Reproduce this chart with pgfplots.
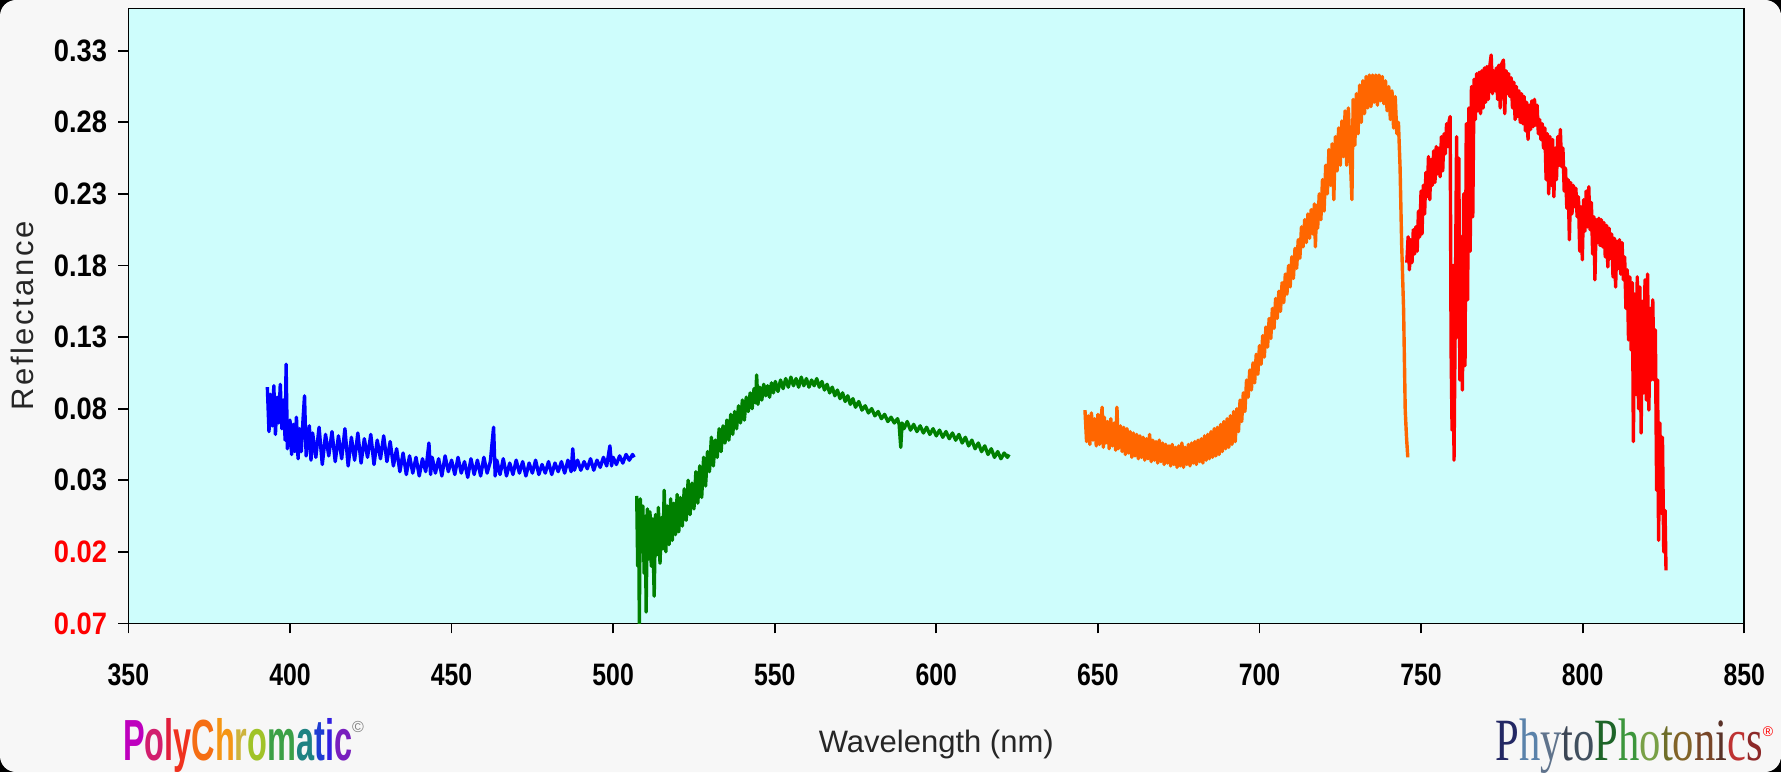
\documentclass[border=0pt]{standalone}
\usepackage{pgfplots}
\pgfplotsset{compat=1.18}
\usepackage{graphicx}
\usepackage{fontspec}
\setmainfont{Liberation Sans}
\newfontfamily\serifl{Liberation Serif}

\definecolor{plotbg}{RGB}{206,253,252}
\definecolor{outbg}{RGB}{247,247,247}
\definecolor{sgreen}{RGB}{0,128,0}
\definecolor{sorange}{RGB}{255,102,0}
\definecolor{sblue}{RGB}{0,0,255}
\definecolor{sred}{RGB}{255,0,0}

% condensed bold tick labels
\newcommand\tl[1]{\scalebox{0.8}[1]{\fontsize{15.5}{16}\selectfont\bfseries #1}}
\newcommand\ytl[1]{\scalebox{0.88}[1]{\fontsize{15.5}{16}\selectfont\bfseries #1}}
\newcommand\ytlr[1]{\textcolor{red}{\ytl{#1}}}

\begin{document}
\begin{tikzpicture}
\fill[black] (0,0) rectangle (890.5pt,386pt);
\fill[outbg, rounded corners=8pt] (0,0) rectangle (890.5pt,386pt);
\useasboundingbox (0,0) rectangle (890.5pt,386pt);

\begin{axis}[
    at={(64.2pt,74.3pt)}, anchor=south west,
    width=807.9pt, height=307.45pt, scale only axis,
    xmin=350, xmax=850, ymin=-0.07, ymax=0.3595,
    axis background/.style={fill=plotbg},
    axis line style={line width=0.9pt, black},
    tick pos=left, tick align=outside,
    major tick length=5pt,
    tick style={black, line width=0.9pt},
    xtick={350,400,450,500,550,600,650,700,750,800,850},
    xticklabels={\tl{350},\tl{400},\tl{450},\tl{500},\tl{550},\tl{600},\tl{650},\tl{700},\tl{750},\tl{800},\tl{850}},
    ytick={-0.07,-0.02,0.03,0.08,0.13,0.18,0.23,0.28,0.33},
    yticklabels={\ytlr{0.07},\ytlr{0.02},\ytl{0.03},\ytl{0.08},\ytl{0.13},\ytl{0.18},\ytl{0.23},\ytl{0.28},\ytl{0.33}},
    xticklabel style={anchor=center, inner sep=0pt, yshift=-20.7pt},
    yticklabel style={anchor=east, inner sep=0pt, xshift=-5.5pt},
    xlabel={Wavelength (nm)},
    ylabel={\addfontfeature{LetterSpace=8}Reflectance},
    label style={font=\fontsize{15.5}{16}\selectfont, text=black!85},
    xlabel style={at={(axis description cs:0.5,-0.1961)}, anchor=center},
    ylabel style={at={(axis description cs:-0.0655,0.5)}, anchor=center},
    every axis plot/.append style={line width=1.7pt, line join=round},
]
% blue segment
\addplot[sblue] coordinates {
(393,0.095)(393.5,0.064)(394,0.090)(394.5,0.068)(395,0.096)(395.5,0.062)(396,0.088)(396.5,0.070)(397,0.097)(397.5,0.066)
(398,0.086)(398.5,0.058)(398.8,0.111)(399.2,0.052)(400,0.072)(400.5,0.048)(401,0.069)(401.5,0.050)(402,0.074)(402.5,0.045)
(403,0.066)(403.5,0.050)(404,0.071)(404.5,0.089)(405,0.047)(406,0.068)(406.5,0.044)(407,0.063)(408,0.046)(409,0.067)
(410,0.041)(411,0.062)(412,0.047)(413,0.064)(414,0.043)(415,0.061)(416,0.045)(417,0.066)(418,0.040)(419,0.060)
(420,0.044)(421,0.063)(422,0.042)(423,0.059)(424,0.046)(425,0.062)(426,0.041)(427,0.058)(428,0.045)(429,0.061)
(430,0.043)(431,0.057)(432,0.040)(433,0.052)(434,0.036)(435,0.049)(436,0.034)(437,0.047)(438,0.035)(439,0.046)
(440,0.033)(441,0.045)(442,0.036)(443,0.056)(443.5,0.034)(444,0.046)(445,0.035)(446,0.045)(447,0.033)(448,0.047)
(449,0.036)(450,0.044)(451,0.034)(452,0.046)(453,0.035)(454,0.043)(455,0.032)(456,0.045)(457,0.034)(458,0.044)
(459,0.033)(460,0.046)(461,0.035)(462,0.043)(463,0.067)(463.5,0.033)(464,0.044)(465,0.034)(466,0.045)(467,0.033)
(468,0.042)(469,0.034)(470,0.044)(471,0.035)(472,0.043)(473,0.033)(474,0.042)(475,0.035)(476,0.044)(477,0.034)
(478,0.041)(479,0.035)(480,0.043)(481,0.034)(482,0.042)(483,0.036)(484,0.043)(485,0.035)(486,0.044)(487,0.036)
(487.5,0.052)(488,0.037)(489,0.044)(490,0.037)(491,0.043)(492,0.038)(493,0.045)(494,0.037)(495,0.044)(496,0.039)
(497,0.046)(498,0.040)(499,0.054)(499.5,0.040)(500,0.046)(501,0.041)(502,0.047)(503,0.042)(504,0.048)(505,0.044)
(506,0.048)(506.5,0.046)
};
% green segment
\addplot[sgreen] coordinates {
(507.3,0.019)(507.6,-0.030)(507.9,0.015)(508.1,-0.070)(508.4,0.017)(508.8,-0.020)(509.2,0.012)(509.6,-0.035)(510,0.005)(510.2,-0.062)
(510.6,0.010)(511,-0.025)(511.4,0.008)(511.8,-0.030)(512.2,0.003)(512.7,-0.051)(513.1,0.006)(513.6,-0.022)(514,0.011)(514.5,-0.028)
(515,0.004)(515.4,-0.018)(515.8,0.023)(516.3,-0.020)(516.8,0.012)(517.3,-0.015)(517.8,0.017)(518.3,-0.012)(518.8,0.014)(519.3,-0.008)
(519.8,0.020)(520.3,-0.006)(520.8,0.018)(521.4,-0.002)(522,0.024)(522.6,0.002)(523.2,0.030)(523.8,0.006)(524.4,0.028)(525,0.010)
(525.6,0.036)(526.2,0.014)(526.8,0.040)(527.4,0.018)(528,0.046)(528.6,0.026)(529.2,0.050)(529.8,0.036)(530.4,0.060)(531,0.040)
(531.6,0.058)(532.2,0.046)(532.8,0.066)(533.4,0.050)(534,0.068)(534.6,0.056)(535.2,0.072)(535.8,0.058)(536.4,0.076)(537,0.062)
(537.6,0.078)(538.2,0.066)(538.8,0.082)(539.4,0.070)(540,0.086)(540.6,0.072)(541.2,0.088)(541.8,0.078)(542.4,0.091)(543,0.080)
(543.6,0.094)(544.1,0.084)(544.4,0.1035)(544.8,0.083)(545.4,0.095)(546,0.086)(546.6,0.097)(547.2,0.089)(547.8,0.096)(548.4,0.088)
(549,0.098)(549.6,0.091)(550.2,0.099)(551,0.092)(551.8,0.100)(552.6,0.094)(553.4,0.101)(554.2,0.095)(555,0.102)(555.8,0.096)
(556.6,0.101)(557.4,0.095)(558.2,0.102)(559,0.096)(559.8,0.101)(560.6,0.095)(561.4,0.100)(562.2,0.096)(563,0.101)(563.8,0.095)
(564.6,0.099)(565.4,0.093)(566.2,0.097)(567,0.091)(567.8,0.095)(568.6,0.089)(569.4,0.093)(570.2,0.087)(571,0.091)(571.8,0.085)
(572.6,0.089)(573.4,0.083)(574.2,0.087)(575,0.081)(576,0.085)(577,0.079)(578,0.082)(579,0.077)(580,0.080)(581,0.075)
(582,0.078)(583,0.073)(584,0.076)(585,0.071)(586,0.074)(587,0.070)(588,0.073)(588.5,0.069)(589,0.053)(589.4,0.070)
(590,0.066)(591,0.071)(592,0.065)(593,0.069)(594,0.064)(595,0.068)(596,0.063)(597,0.067)(598,0.062)(599,0.066)
(600,0.061)(601,0.065)(602,0.060)(603,0.064)(604,0.059)(605,0.063)(606,0.058)(607,0.062)(608,0.056)(609,0.060)
(610,0.054)(611,0.058)(612,0.052)(613,0.056)(614,0.050)(615,0.054)(616,0.048)(617,0.052)(618,0.046)(619,0.050)
(620,0.045)(621,0.049)(622,0.046)(622.5,0.048)
};
% orange segment
\addplot[sorange] coordinates {
(646,0.079)(646.5,0.057)(647,0.075)(647.5,0.055)(648,0.077)(648.5,0.058)(649,0.073)(649.5,0.054)(650,0.076)(650.5,0.055)
(651,0.072)(651.3,0.081)(651.7,0.053)(652,0.074)(652.5,0.056)(653,0.071)(653.5,0.052)(654,0.073)(654.5,0.054)(655,0.070)
(655.5,0.051)(655.9,0.081)(656.3,0.052)(657,0.068)(657.5,0.050)(658,0.067)(658.5,0.048)(659,0.066)(659.5,0.049)(660,0.064)
(660.5,0.046)(661,0.063)(661.5,0.047)(662,0.062)(662.5,0.045)(663,0.061)(663.5,0.046)(664,0.060)(664.5,0.044)(665,0.059)
(665.5,0.045)(666,0.062)(666.5,0.043)(667,0.058)(667.5,0.044)(668,0.057)(668.5,0.042)(669,0.058)(669.5,0.043)(670,0.056)
(670.5,0.041)(671,0.055)(671.5,0.042)(672,0.054)(672.5,0.040)(673,0.055)(673.5,0.041)(674,0.053)(674.5,0.039)(675,0.054)
(675.5,0.040)(676,0.056)(676.5,0.039)(677,0.053)(677.5,0.041)(678,0.055)(678.5,0.040)(679,0.056)(679.5,0.042)(680,0.057)
(680.5,0.041)(681,0.058)(681.5,0.043)(682,0.059)(682.5,0.042)(683,0.061)(683.5,0.044)(684,0.062)(684.5,0.045)(685,0.064)
(685.5,0.046)(686,0.066)(686.5,0.047)(687,0.067)(687.5,0.048)(688,0.069)(688.5,0.050)(689,0.071)(689.5,0.052)(690,0.073)
(690.5,0.053)(691,0.075)(691.5,0.055)(692,0.078)(692.5,0.057)(693,0.080)(693.5,0.064)(694,0.086)(694.5,0.071)(695,0.091)
(695.5,0.078)(696,0.100)(696.5,0.088)(697,0.107)(697.5,0.093)(698,0.112)(698.5,0.098)(699,0.118)(699.5,0.104)(700,0.124)
(700.5,0.111)(701,0.131)(701.5,0.116)(702,0.137)(702.5,0.123)(703,0.143)(703.5,0.129)(704,0.150)(704.5,0.136)(705,0.157)
(705.5,0.143)(706,0.162)(706.5,0.148)(707,0.168)(707.5,0.154)(708,0.174)(708.5,0.160)(709,0.180)(709.5,0.165)(710,0.186)
(710.5,0.171)(711,0.192)(711.5,0.178)(712,0.198)(712.5,0.185)(713,0.207)(713.5,0.193)(714,0.212)(714.5,0.196)(715,0.216)
(715.5,0.199)(716,0.219)(716.5,0.202)(717,0.223)(717.3,0.193)(717.7,0.222)(718,0.206)(718.5,0.230)(719,0.212)(719.5,0.240)
(720,0.218)(720.5,0.250)(721,0.230)(721.5,0.261)(722,0.236)(722.5,0.265)(723,0.226)(723.5,0.270)(724,0.246)(724.5,0.276)
(725,0.250)(725.5,0.281)(726,0.256)(726.5,0.288)(727,0.250)(727.5,0.290)(728,0.262)(728.6,0.226)(729,0.296)(729.5,0.264)
(730,0.300)(730.5,0.272)(731,0.306)(731.5,0.280)(732,0.309)(732.5,0.286)(733,0.312)(733.5,0.290)(734,0.313)(734.5,0.291)
(735,0.313)(735.5,0.294)(736,0.313)(736.5,0.292)(737,0.313)(737.5,0.295)(738,0.312)(738.5,0.293)(739,0.309)(739.5,0.288)
(740,0.305)(740.5,0.282)(741,0.302)(741.5,0.276)(742,0.298)(742.5,0.272)(743,0.280)(743.5,0.249)(744,0.195)(744.6,0.149)
(745.1,0.079)(745.5,0.060)(745.9,0.046)
};
% red segment
\addplot[sred] coordinates {
(745.6,0.182)(746,0.200)(746.4,0.177)(746.8,0.198)(747.2,0.182)(747.6,0.205)(748,0.188)(748.4,0.207)(748.8,0.190)(749.2,0.218)
(749.6,0.200)(750,0.232)(750.3,0.202)(750.7,0.236)(751.1,0.216)(751.5,0.245)(751.9,0.228)(752.3,0.256)(752.7,0.226)(753.1,0.254)
(753.5,0.236)(753.9,0.260)(754.3,0.238)(754.7,0.263)(755.1,0.244)(755.5,0.262)(755.9,0.242)(756.3,0.270)(756.7,0.246)(757.1,0.272)
(757.5,0.258)(757.9,0.279)(758.3,0.263)(758.7,0.281)(759,0.284)(759.3,0.120)(759.6,0.065)(759.9,0.180)(760.2,0.044)(760.6,0.150)
(761,0.270)(761.3,0.130)(761.7,0.255)(762,0.100)(762.4,0.200)(762.8,0.093)(763.2,0.230)(763.6,0.110)(764,0.279)(764.4,0.156)
(764.8,0.290)(765.2,0.190)(765.6,0.305)(766,0.214)(766.4,0.310)(766.8,0.282)(767.2,0.314)(767.6,0.288)(768,0.315)(768.4,0.286)
(768.8,0.316)(769.2,0.290)(769.6,0.318)(770,0.294)(770.4,0.319)(770.8,0.296)(771.2,0.318)(771.7,0.327)(772.1,0.300)(772.5,0.316)
(772.9,0.302)(773.3,0.318)(773.7,0.296)(774.1,0.320)(774.5,0.290)(775,0.321)(775.5,0.3235)(775.9,0.286)(776.3,0.316)(776.7,0.300)
(777.1,0.314)(777.5,0.298)(777.9,0.311)(778.3,0.290)(778.7,0.308)(779.1,0.282)(779.5,0.305)(779.9,0.284)(780.3,0.302)(780.7,0.280)
(781.1,0.300)(781.5,0.279)(781.9,0.298)(782.3,0.274)(782.7,0.294)(783.1,0.268)(783.5,0.292)(783.9,0.275)(784.3,0.295)(784.7,0.277)
(785.1,0.296)(785.5,0.278)(785.9,0.292)(786.3,0.272)(786.7,0.282)(787.1,0.268)(787.5,0.279)(787.9,0.262)(788.3,0.276)(788.7,0.240)
(789.1,0.272)(789.5,0.230)(789.9,0.270)(790.3,0.236)(790.7,0.268)(791.1,0.228)(791.5,0.262)(791.9,0.240)(792.3,0.270)(792.7,0.250)
(793.1,0.275)(793.5,0.249)(793.9,0.262)(794.3,0.232)(794.7,0.248)(795.1,0.220)(795.5,0.240)(795.9,0.198)(796.3,0.238)(796.7,0.216)
(797.1,0.236)(797.5,0.221)(797.9,0.234)(798.3,0.214)(798.7,0.228)(799.1,0.190)(799.5,0.221)(799.9,0.184)(800.3,0.226)(800.7,0.204)
(801.1,0.232)(801.5,0.207)(801.9,0.235)(802.3,0.205)(802.7,0.224)(803.1,0.188)(803.5,0.214)(803.8,0.170)(804.2,0.212)(804.6,0.196)
(805,0.213)(805.4,0.194)(805.8,0.212)(806.2,0.193)(806.6,0.210)(807,0.186)(807.4,0.208)(807.8,0.179)(808.2,0.206)(808.6,0.185)
(809,0.202)(809.4,0.172)(809.8,0.199)(810.2,0.165)(810.6,0.197)(811,0.178)(811.4,0.198)(811.8,0.174)(812.2,0.196)(812.6,0.170)
(813,0.186)(813.4,0.150)(813.8,0.177)(814.2,0.128)(814.6,0.172)(815,0.121)(815.4,0.168)(815.7,0.057)(816.1,0.160)(816.5,0.090)
(816.9,0.172)(817.3,0.080)(817.7,0.165)(818.1,0.063)(818.5,0.155)(818.9,0.091)(819.3,0.170)(819.7,0.086)(820.1,0.174)(820.5,0.079)
(820.9,0.150)(821.3,0.100)(821.7,0.156)(822.1,0.100)(822.5,0.135)(822.9,0.023)(823.2,0.100)(823.5,-0.012)(823.9,0.070)(824.3,0.007)
(824.7,0.060)(825.1,-0.020)(825.5,0.009)(825.8,-0.033)
};
\end{axis}

% logos
\node[anchor=base west, inner sep=0pt] at (61.3pt,6pt) {\scalebox{0.56}[1]{\fontsize{29}{29}\selectfont\bfseries
\textcolor[RGB]{190,0,190}{P}\textcolor[RGB]{210,30,110}{o}\textcolor[RGB]{225,30,60}{l}\textcolor[RGB]{240,50,30}{y}%
\textcolor[RGB]{245,110,20}{C}\textcolor[RGB]{245,150,20}{h}\textcolor[RGB]{205,180,60}{r}\textcolor[RGB]{160,195,40}{o}%
\textcolor[RGB]{60,160,70}{m}\textcolor[RGB]{30,130,130}{a}\textcolor[RGB]{30,60,210}{t}\textcolor[RGB]{50,30,225}{i}%
\textcolor[RGB]{120,30,190}{c}}\raisebox{14pt}{\textcolor{gray}{\fontsize{8}{8}\selectfont\textcopyright}}};
\node[anchor=base west, inner sep=0pt] at (747.5pt,6pt) {\scalebox{0.71}[1]{\fontsize{30}{30}\selectfont\serifl
\textcolor[RGB]{35,40,100}{P}\textcolor[RGB]{90,130,170}{h}\textcolor[RGB]{95,115,140}{y}\textcolor[RGB]{60,70,85}{t}\textcolor[RGB]{65,80,95}{o}%
\textcolor[RGB]{30,100,40}{P}\textcolor[RGB]{60,150,60}{h}\textcolor[RGB]{120,160,70}{o}\textcolor[RGB]{110,110,40}{t}\textcolor[RGB]{130,100,40}{o}%
\textcolor[RGB]{120,70,40}{n}\textcolor[RGB]{90,50,40}{i}\textcolor[RGB]{190,50,50}{c}\textcolor[RGB]{140,40,40}{s}}\raisebox{12pt}{\textcolor{red}{\fontsize{7}{7}\selectfont\textregistered}}};
\end{tikzpicture}
\end{document}
